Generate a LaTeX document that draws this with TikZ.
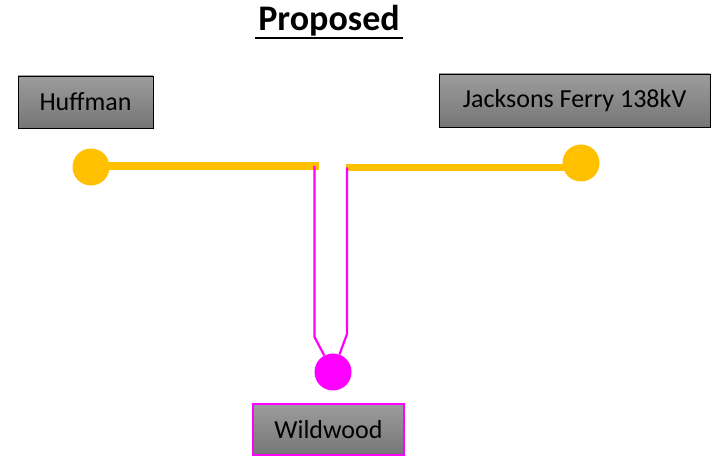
\documentclass[tikz,border=0pt]{standalone}
\usepackage{fontspec}
\setmainfont{Carlito}
\definecolor{feed}{HTML}{FFC000}
\definecolor{tap}{HTML}{FF00FF}
\definecolor{boxtop}{HTML}{9C9C9C}
\definecolor{boxbot}{HTML}{767676}
\begin{document}
\begin{tikzpicture}[x=1pt,y=-1pt,
  station/.style={draw=black,line width=0.9pt,top color=boxtop,bottom color=boxbot,inner sep=0pt,font=\fontsize{26}{30}\selectfont},
  feedline/.style={draw=feed,line width=7.5pt},
  tapline/.style={draw=tap,line width=2.2pt},
  feeddot/.style={circle,fill=feed,minimum size=37pt,inner sep=0pt},
  tapdot/.style={circle,fill=tap,minimum size=37pt,inner sep=0pt}]
\useasboundingbox (0,0) rectangle (718,462);
\node[anchor=base] (title) at (329,31) {\fontsize{36}{40}\selectfont\bfseries Proposed};
\draw[line width=2.5pt] ([yshift=-7pt]title.base west) -- ([yshift=-7pt]title.base east);
\node[station,minimum width=135pt,minimum height=52pt] (huff) at (85.5,102) {Huffman};
\node[station,minimum width=271pt,minimum height=53pt] (jf) at (574.5,100.5) {Jacksons Ferry 138kV};
\node[station,draw=tap,line width=1.3pt,minimum width=151pt,minimum height=51pt] (wild) at (328.5,429.5) {Wildwood};
\node[feeddot] (hdot) at (91,167) {};
\node[feeddot] (jdot) at (581,163) {};
\node[tapdot] (wdot) at (333,372) {};
\coordinate (hjoin) at (95,166);
\coordinate (lend) at (319,166);
\coordinate (rend) at (346,167.5);
\coordinate (rjoin) at (575,167.5);
\coordinate (la) at (314.5,166);
\coordinate (lb) at (314.5,337);
\coordinate (ra) at (347,167.5);
\coordinate (rb) at (347,334);
\draw[feedline] (hjoin) -- (lend);
\draw[feedline] (rend) -- (rjoin);
\draw[tapline] (la) -- (lb) -- (wdot);
\draw[tapline] (ra) -- (rb) -- (wdot);
\end{tikzpicture}
\end{document}
